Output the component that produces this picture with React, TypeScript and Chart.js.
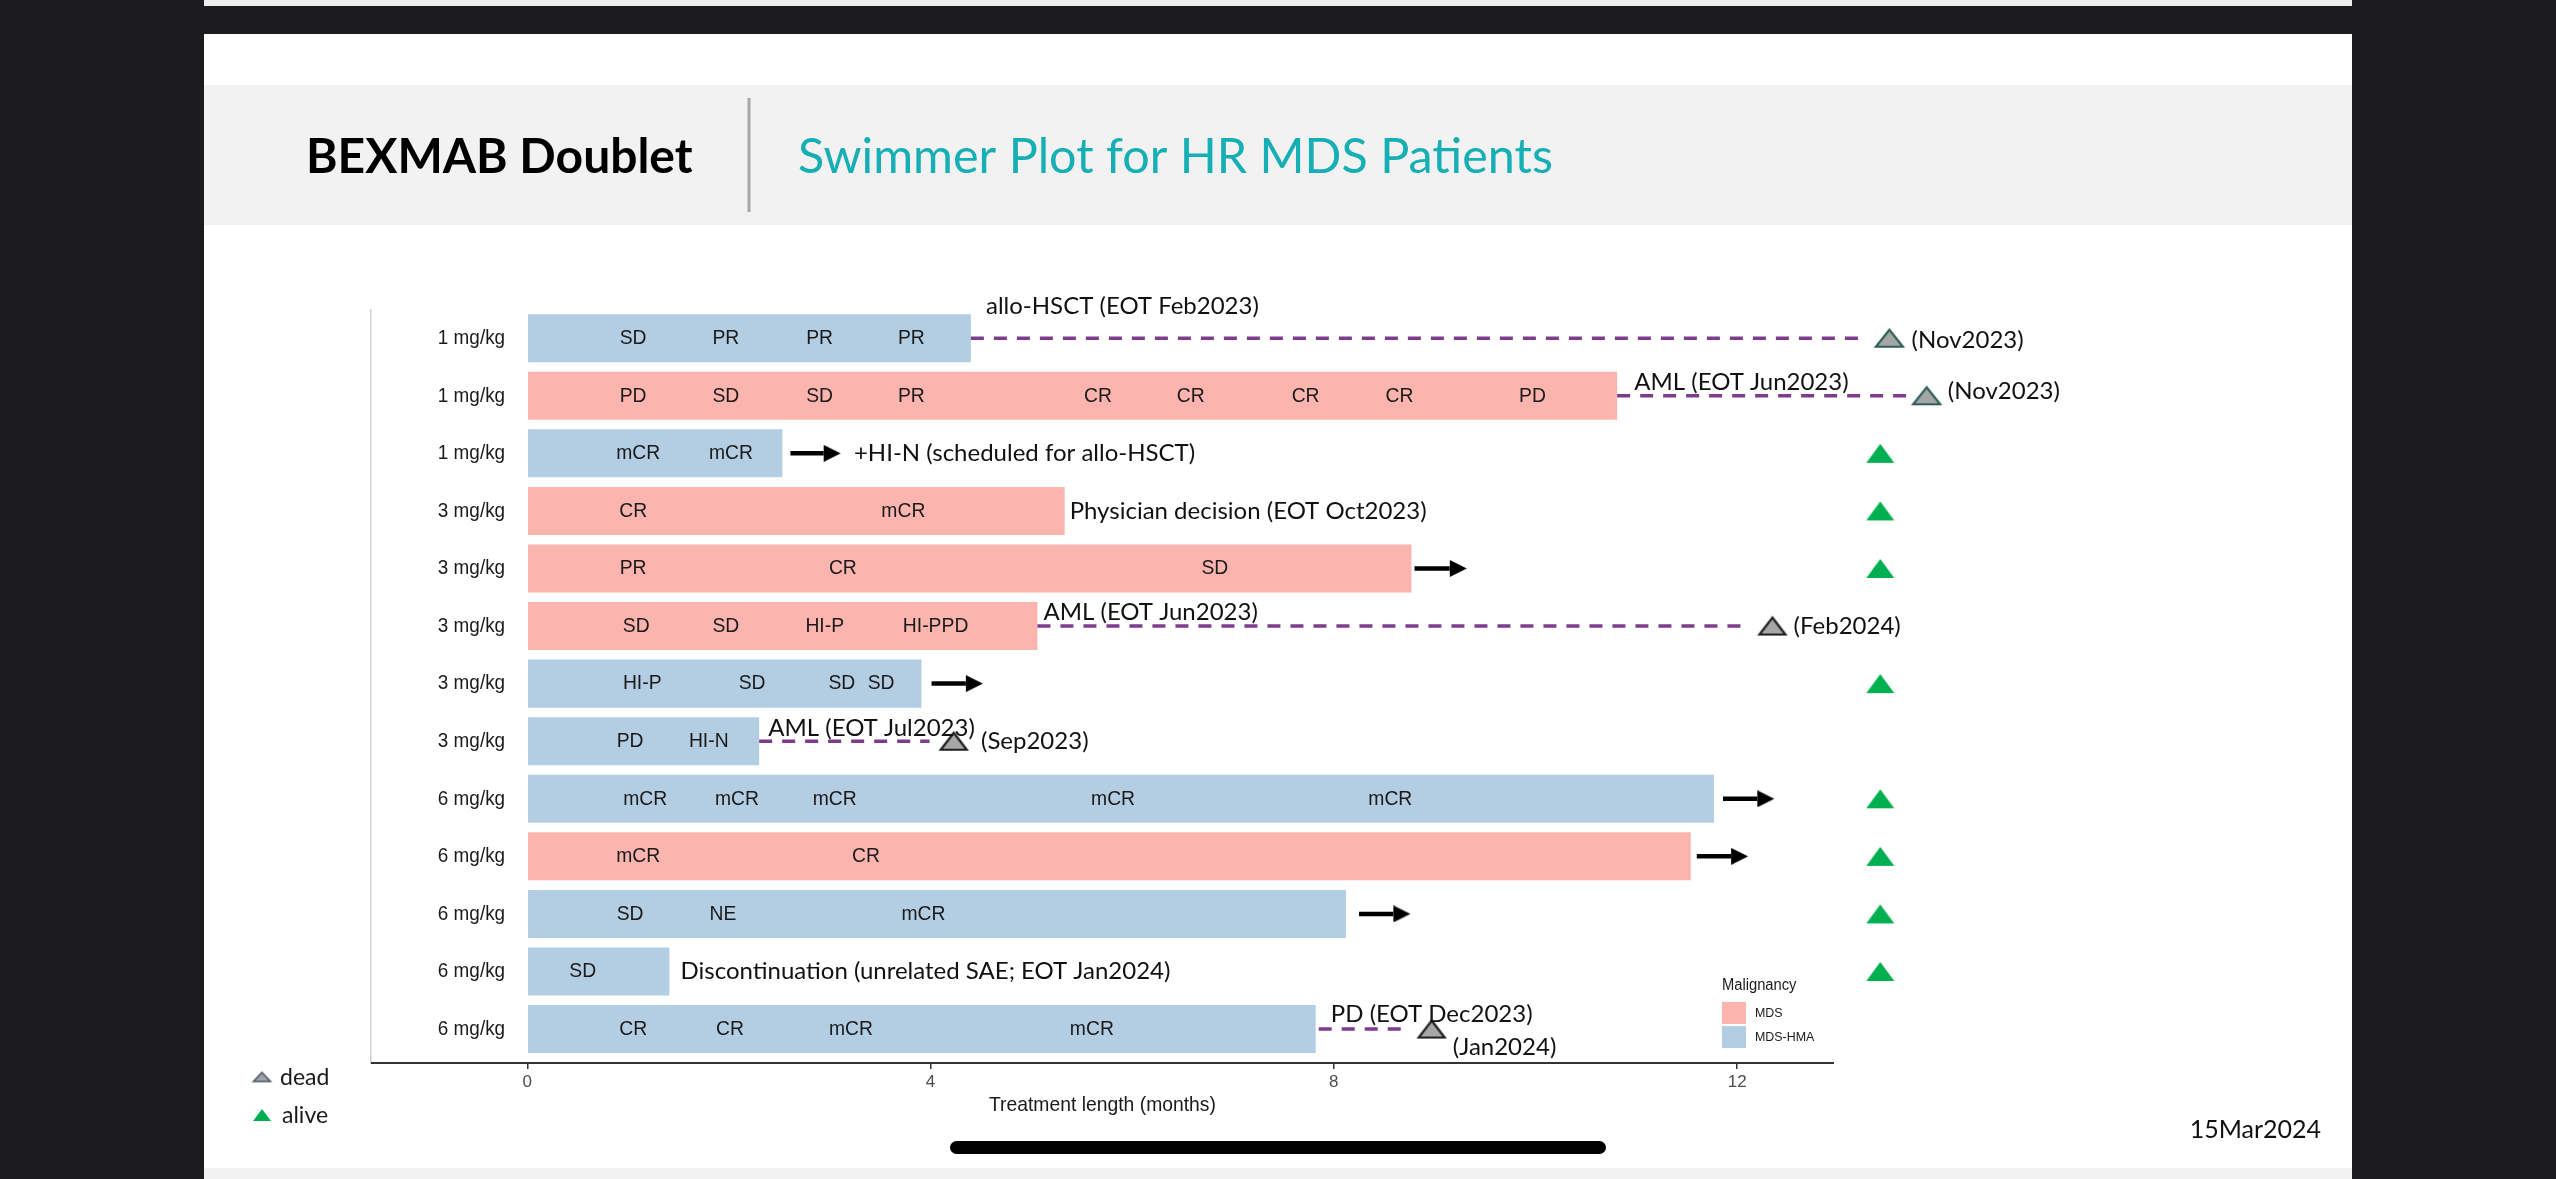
import { useEffect, useRef } from 'react';
import { Chart, registerables } from 'chart.js';

Chart.register(...registerables);

// ---------- data (rows top to bottom) ----------
const doseLabels = ['1 mg/kg', '1 mg/kg', '1 mg/kg', '3 mg/kg', '3 mg/kg', '3 mg/kg', '3 mg/kg', '3 mg/kg', '6 mg/kg', '6 mg/kg', '6 mg/kg', '6 mg/kg', '6 mg/kg'];
const malignancy = ['MDS-HMA', 'MDS', 'MDS-HMA', 'MDS', 'MDS', 'MDS', 'MDS-HMA', 'MDS-HMA', 'MDS-HMA', 'MDS', 'MDS-HMA', 'MDS-HMA', 'MDS-HMA'];
const treatmentMonths = [4.40, 10.81, 2.53, 5.33, 8.77, 5.06, 3.91, 2.30, 11.77, 11.54, 8.12, 1.41, 7.82];

// [row, month, response]
const responses: [number, number, string][] = [
  [0, 1.05, 'SD'], [0, 1.97, 'PR'], [0, 2.90, 'PR'], [0, 3.81, 'PR'],
  [1, 1.05, 'PD'], [1, 1.97, 'SD'], [1, 2.90, 'SD'], [1, 3.81, 'PR'], [1, 5.66, 'CR'], [1, 6.58, 'CR'], [1, 7.72, 'CR'], [1, 8.65, 'CR'], [1, 9.97, 'PD'],
  [2, 1.10, 'mCR'], [2, 2.02, 'mCR'],
  [3, 1.05, 'CR'], [3, 3.73, 'mCR'],
  [4, 1.05, 'PR'], [4, 3.13, 'CR'], [4, 6.82, 'SD'],
  [5, 1.08, 'SD'], [5, 1.97, 'SD'], [5, 2.95, 'HI-P'], [5, 4.05, 'HI-PPD'],
  [6, 1.14, 'HI-P'], [6, 2.23, 'SD'], [6, 3.12, 'SD'], [6, 3.51, 'SD'],
  [7, 1.02, 'PD'], [7, 1.80, 'HI-N'],
  [8, 1.17, 'mCR'], [8, 2.08, 'mCR'], [8, 3.05, 'mCR'], [8, 5.81, 'mCR'], [8, 8.56, 'mCR'],
  [9, 1.10, 'mCR'], [9, 3.36, 'CR'],
  [10, 1.02, 'SD'], [10, 1.94, 'NE'], [10, 3.93, 'mCR'],
  [11, 0.55, 'SD'],
  [12, 1.05, 'CR'], [12, 2.01, 'CR'], [12, 3.21, 'mCR'], [12, 5.60, 'mCR'],
];

// ongoing treatment arrows: [row, from, to]
const ongoingArrows: [number, number, number][] = [
  [2, 2.61, 2.94], [4, 8.80, 9.15], [6, 4.01, 4.35], [8, 11.86, 12.20], [9, 11.60, 11.94], [10, 8.25, 8.59],
];

// post-treatment follow-up (dashed): [row, from, to]
const followUpLines: [number, number, number][] = [
  [0, 4.40, 13.29], [1, 10.81, 13.74], [5, 5.06, 12.10], [7, 2.30, 3.99], [12, 7.85, 8.68],
];

// deaths: [row, month]
const deathMarks: [number, number][] = [[0, 13.51], [1, 13.88], [5, 12.35], [7, 4.23], [12, 8.97]];
const deathDates: [number, number, string, number][] = [
  [0, 13.73, '(Nov2023)', 0.03], [1, 14.09, '(Nov2023)', -0.07], [5, 12.56, '(Feb2024)', 0], [7, 4.50, '(Sep2023)', 0], [12, 9.18, '(Jan2024)', 0.31],
];

// alive status markers
const aliveRows = [2, 3, 4, 6, 8, 9, 10, 11];
const aliveMonth = 13.42;

// end-of-treatment annotations: [row, month, text, vertical offset in rows]
const annotations: [number, number, string, number][] = [
  [0, 4.55, 'allo-HSCT (EOT Feb2023)', -0.56],
  [1, 10.98, 'AML (EOT Jun2023)', -0.24],
  [2, 3.24, '+HI-N (scheduled for allo-HSCT)', 0],
  [3, 5.38, 'Physician decision (EOT Oct2023)', 0],
  [5, 5.12, 'AML (EOT Jun2023)', -0.24],
  [7, 2.39, 'AML (EOT Jul2023)', -0.23],
  [11, 1.52, 'Discontinuation (unrelated SAE; EOT Jan2024)', 0],
  [12, 7.97, 'PD (EOT Dec2023)', -0.26],
];

const xTicks = [0, 4, 8, 12];
const xAxisExtent = [-1.55, 12.96];

// ---------- style ----------
const COLORS: Record<string, string> = { MDS: '#FBB4AE', 'MDS-HMA': '#B3CDE3' };
const PURPLE = '#7D3C8C';
const GG = '"Liberation Sans", Arial, sans-serif';
const CAL = 'Lato, "Open Sans", sans-serif';

function triangleImage(w: number, h: number, fill: string, stroke: string | null, lw: number) {
  const c = document.createElement('canvas');
  const pad = Math.ceil(lw) + 1;
  c.width = w + 2 * pad;
  c.height = h + 2 * pad;
  const g = c.getContext('2d')!;
  g.beginPath();
  g.moveTo(pad + w / 2, pad);
  g.lineTo(pad + w, pad + h);
  g.lineTo(pad, pad + h);
  g.closePath();
  g.fillStyle = fill;
  g.fill();
  if (stroke) {
    g.strokeStyle = stroke;
    g.lineWidth = lw;
    g.lineJoin = 'miter';
    g.stroke();
  }
  return c;
}

function arrowHeadImage() {
  const c = document.createElement('canvas');
  c.width = 36;
  c.height = 17;
  const g = c.getContext('2d')!;
  g.beginPath();
  g.moveTo(18, 0);
  g.lineTo(35, 8.5);
  g.lineTo(18, 17);
  g.closePath();
  g.fillStyle = '#000';
  g.fill();
  return c;
}

function text(ctx: CanvasRenderingContext2D, s: string, x: number, y: number, font: string, color: string, align: CanvasTextAlign, sx = 1, baseline: CanvasTextBaseline = 'middle') {
  ctx.save();
  ctx.font = font;
  ctx.fillStyle = color;
  ctx.textAlign = align;
  ctx.textBaseline = baseline;
  ctx.translate(x, y);
  ctx.scale(sx, 1);
  ctx.fillText(s, 0, 0);
  ctx.restore();
}

export default function App() {
  const ref = useRef<HTMLCanvasElement | null>(null);

  useEffect(() => {
    document.body.style.margin = '0';
    const aliveImg = triangleImage(28, 19, '#00B050', null, 0);
    const deadTeal = triangleImage(27, 17, '#A6A6A6', '#2F5F5A', 2.2);
    const deadDark = triangleImage(26, 17, '#A6A6A6', '#1E1E1E', 2.2);
    const legendDead = triangleImage(17, 9, '#9EA3A8', '#4A5868', 1.6);
    const legendAlive = triangleImage(18, 12, '#00B050', null, 0);
    const arrowImg = arrowHeadImage();

    const decor = {
      id: 'swimmerDecor',
      beforeDraw(chart: any) {
        const ctx: CanvasRenderingContext2D = chart.ctx;
        ctx.save();
        ctx.fillStyle = '#1C1C1E';
        ctx.fillRect(0, 0, 2556, 1179);
        ctx.fillStyle = '#EDEDED';
        ctx.fillRect(204, 0, 2148, 6);
        ctx.fillStyle = '#FFFFFF';
        ctx.fillRect(204, 34, 2148, 1134);
        ctx.fillStyle = '#F2F2F2';
        ctx.fillRect(204, 85, 2148, 140);
        ctx.fillRect(204, 1168, 2148, 11);
        ctx.strokeStyle = '#A6A6A6';
        ctx.lineWidth = 3;
        ctx.beginPath();
        ctx.moveTo(749, 98);
        ctx.lineTo(749, 212);
        ctx.stroke();
        text(ctx, 'BEXMAB Doublet', 306, 173, `bold 48px ${CAL}`, '#000000', 'left', 1, 'alphabetic');
        text(ctx, 'Swimmer Plot for HR MDS Patients', 798, 173, `48.5px ${CAL}`, '#15AFB5', 'left', 1, 'alphabetic');
        text(ctx, '15Mar2024', 2321, 1130, `25px ${CAL}`, '#111111', 'right');
        // home indicator
        ctx.fillStyle = '#000000';
        ctx.beginPath();
        (ctx as any).roundRect(950, 1141, 656, 13, 6.5);
        ctx.fill();
        ctx.restore();
      },
      afterDatasetsDraw(chart: any) {
        const ctx: CanvasRenderingContext2D = chart.ctx;
        const xs = chart.scales.x;
        const ys = chart.scales.y;
        const area = chart.chartArea;
        const rowH = Math.abs(ys.getPixelForValue(1) - ys.getPixelForValue(0));
        ctx.save();
        // x axis line
        ctx.strokeStyle = '#333333';
        ctx.lineWidth = 1.8;
        ctx.beginPath();
        ctx.moveTo(xs.getPixelForValue(xAxisExtent[0]), area.bottom);
        ctx.lineTo(xs.getPixelForValue(xAxisExtent[1]), area.bottom);
        ctx.stroke();
        // axis title
        const midX = (xs.getPixelForValue(xAxisExtent[0]) + xs.getPixelForValue(xAxisExtent[1])) / 2;
        text(ctx, 'Treatment length (months)', midX, area.bottom + 42, `21px ${GG}`, '#1A1A1A', 'center', 0.92);
        // dose labels
        doseLabels.forEach((d, i) => {
          text(ctx, d, xs.getPixelForValue(-0.22), ys.getPixelForValue(i), `21px ${GG}`, '#1A1A1A', 'right', 0.9);
        });
        // response labels
        responses.forEach(([r, m, s]) => {
          text(ctx, s, xs.getPixelForValue(m), ys.getPixelForValue(r), `21px ${GG}`, '#1A1A1A', 'center', 0.92);
        });
        // annotations
        annotations.forEach(([r, m, s, dy]) => {
          text(ctx, s, xs.getPixelForValue(m), ys.getPixelForValue(r) + dy * rowH, `24px ${CAL}`, '#111111', 'left');
        });
        deathDates.forEach(([r, m, s, dy]) => {
          text(ctx, s, xs.getPixelForValue(m), ys.getPixelForValue(r) + dy * rowH, `24px ${CAL}`, '#111111', 'left');
        });
        // Malignancy legend
        text(ctx, 'Malignancy', 1722, 986, `16px ${GG}`, '#1A1A1A', 'left', 0.92);
        ctx.fillStyle = COLORS['MDS'];
        ctx.fillRect(1722, 1002, 24, 22);
        ctx.fillStyle = COLORS['MDS-HMA'];
        ctx.fillRect(1722, 1026, 24, 22);
        text(ctx, 'MDS', 1755, 1013, `13.5px ${GG}`, '#1A1A1A', 'left', 0.92);
        text(ctx, 'MDS-HMA', 1755, 1037, `13.5px ${GG}`, '#1A1A1A', 'left', 0.92);
        // status legend
        ctx.drawImage(legendDead, 262 - legendDead.width / 2, 1077 - legendDead.height / 2);
        ctx.drawImage(legendAlive, 262 - legendAlive.width / 2, 1115 - legendAlive.height / 2);
        text(ctx, 'dead', 280, 1078, `23px ${CAL}`, '#1A1A1A', 'left');
        text(ctx, 'alive', 282, 1116, `23px ${CAL}`, '#1A1A1A', 'left');
        ctx.restore();
      },
    };

    const datasets: any[] = [
      {
        type: 'bar',
        label: 'Treatment',
        data: treatmentMonths.map((m, i) => ({ x: m, y: i })),
        backgroundColor: malignancy.map((k) => COLORS[k]),
        borderWidth: 0,
        barPercentage: 0.834,
        categoryPercentage: 1,
        order: 5,
      },
      ...followUpLines.map(([r, a, b]) => ({
        type: 'line',
        label: 'follow-up',
        data: [{ x: a, y: r }, { x: b, y: r }],
        borderColor: PURPLE,
        borderWidth: 3.5,
        borderDash: [13, 10],
        pointRadius: 0,
        fill: false,
        order: 3,
      })),
      ...ongoingArrows.map(([r, a, b]) => ({
        type: 'line',
        label: 'ongoing',
        data: [{ x: a, y: r }, { x: b, y: r }],
        borderColor: '#000000',
        borderWidth: 4.5,
        pointRadius: [0, 10],
        pointStyle: arrowImg,
        fill: false,
        order: 2,
      })),
      {
        type: 'scatter',
        label: 'dead',
        data: deathMarks.map(([r, m]) => ({ x: m, y: r })),
        pointStyle: deathMarks.map(([r]) => (r < 2 ? deadTeal : deadDark)),
        pointRadius: 10,
        order: 1,
      },
      {
        type: 'scatter',
        label: 'alive',
        data: aliveRows.map((r) => ({ x: aliveMonth, y: r })),
        pointStyle: aliveImg,
        pointRadius: 10,
        order: 1,
      },
    ];

    const chart = new Chart(ref.current!, {
      type: 'bar',
      data: { datasets },
      plugins: [decor],
      options: {
        animation: false,
        responsive: true,
        maintainAspectRatio: false,
        indexAxis: 'y',
        events: [],
        layout: { padding: { left: 0, top: 310, right: 466, bottom: 0 } },
        plugins: { legend: { display: false }, tooltip: { enabled: false }, title: { display: false } },
        scales: {
          x: {
            type: 'linear',
            min: -1.55,
            max: 15.5,
            afterBuildTicks: (scale: any) => {
              scale.ticks = xTicks.map((v) => ({ value: v }));
            },
            afterFit: (scale: any) => {
              scale.height = 116;
            },
            border: { display: false },
            grid: { display: true, drawOnChartArea: false, drawTicks: true, tickLength: 6, color: '#333333', lineWidth: 1.5 },
            ticks: { color: '#4D4D4D', font: { family: GG, size: 17 }, padding: 3, maxRotation: 0, autoSkip: false, callback: (v: any) => String(v) },
          },
          y: {
            type: 'linear',
            reverse: true,
            min: -0.49,
            max: 12.59,
            offset: false,
            afterBuildTicks: (scale: any) => {
              scale.ticks = doseLabels.map((_, i) => ({ value: i }));
            },
            afterFit: (scale: any) => {
              scale.width = 371;
            },
            grid: { display: false },
            border: { display: true, color: '#D0D0D0', width: 1.5 },
            ticks: { display: false },
          },
        },
      } as any,
    });
    return () => chart.destroy();
  }, []);

  return (
    <div style={{ position: 'fixed', left: 0, top: 0, width: 2556, height: 1179, background: '#1C1C1E' }}>
      <canvas ref={ref} />
    </div>
  );
}
